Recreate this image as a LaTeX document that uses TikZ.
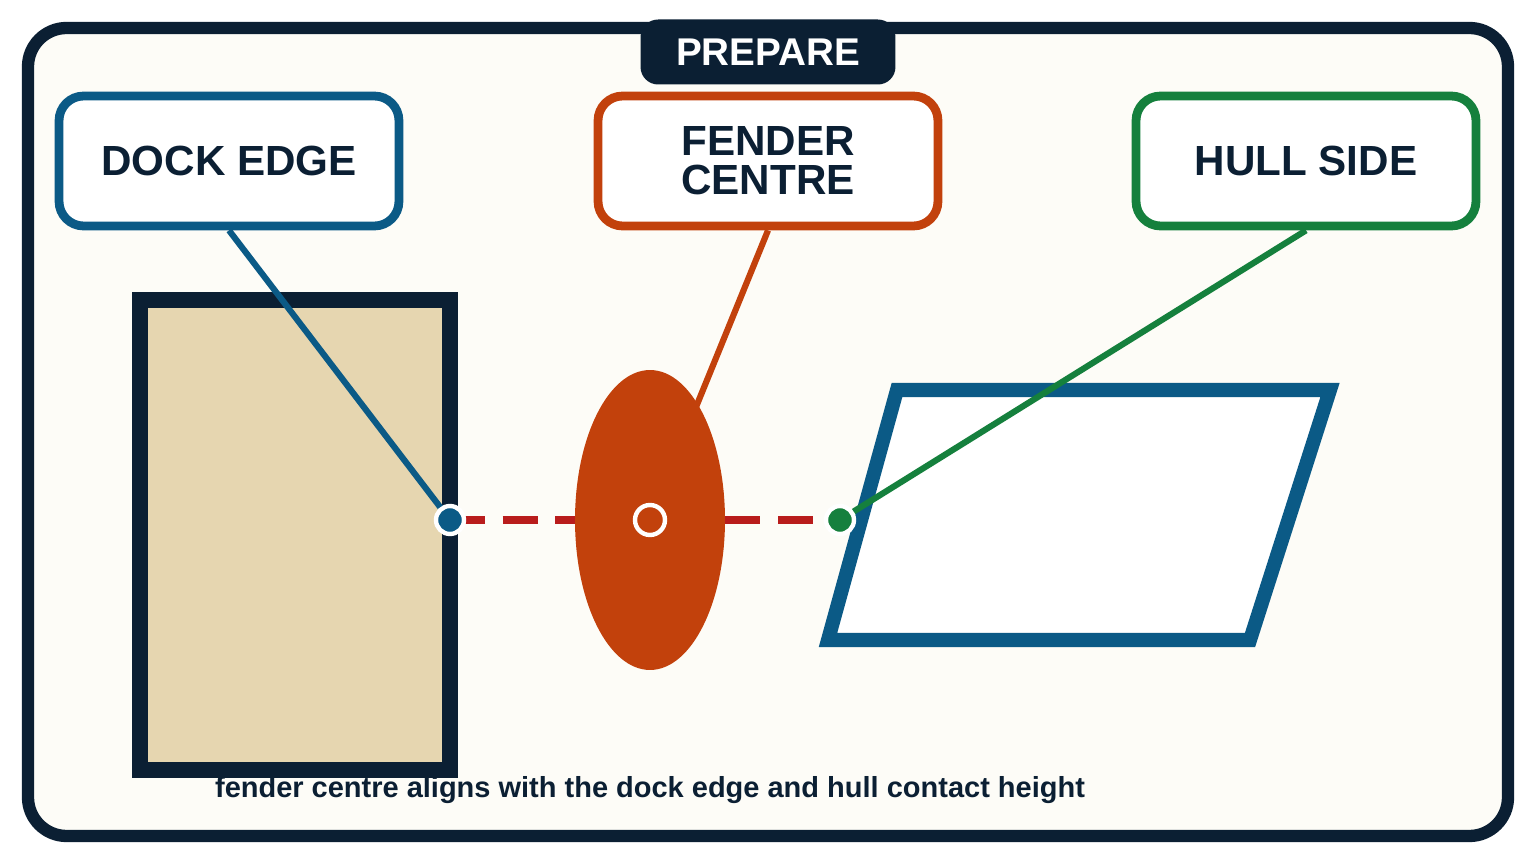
\documentclass[tikz,border=0pt]{standalone}
\usepackage{fontspec}
\setmainfont{Liberation Sans}
\usetikzlibrary{shapes.geometric}
\definecolor{navy}{HTML}{0B1F33}
\definecolor{cblue}{HTML}{0B5A86}
\definecolor{corange}{HTML}{C2410C}
\definecolor{cgreen}{HTML}{15803D}
\definecolor{cred}{HTML}{B91C1C}
\definecolor{cream}{HTML}{FDFCF7}
\definecolor{sand}{HTML}{E6D6B0}
\begin{document}
\begin{tikzpicture}[x=0.02cm,y=-0.02cm,
 lbl/.style={draw,line width=5pt,rounded corners=14pt,fill=white,minimum width=6.8cm,minimum height=2.6cm,font=\bfseries\fontsize{24}{26}\selectfont,text=navy,align=center},
 lead/.style={line width=3.5pt}]
\useasboundingbox (0,0) rectangle (1536,864);
\fill[white] (0,0) rectangle (1536,864);
\draw[navy,line width=7pt,fill=cream,rounded corners=22pt] (28,28) rectangle (1508,836);
\node[fill=navy,rounded corners=10pt,minimum width=5.1cm,minimum height=1.3cm,text=white,font=\bfseries\fontsize{22}{24}\selectfont] (tab) at (768,52) {PREPARE};
\node[lbl,draw=cblue] (dock) at (229,161) {DOCK EDGE};
\node[lbl,draw=corange] (fend) at (768,161) {FENDER\\[-4pt]CENTRE};
\node[lbl,draw=cgreen] (hull) at (1306,161) {HULL SIDE};
\draw[navy,line width=9pt,fill=sand] (140,300) rectangle (450,770);
\coordinate (pd) at (450,520);
\coordinate (pf) at (650,520);
\coordinate (ph) at (840,520);
\draw[corange,lead] (fend.south) -- (pf);
\node[ellipse,fill=corange,minimum width=3cm,minimum height=6cm,inner sep=0] (ell) at (650,520) {};
\draw[cblue,line width=8pt,fill=white,line join=miter] (897,390) -- (1330,390) -- (1250,640) -- (828,640) -- cycle;
\draw[cred,line width=4.5pt,dash pattern=on 20pt off 10pt] (pd) -- (ell.west);
\draw[cred,line width=4.5pt,dash pattern=on 20pt off 10pt] (ell.east) -- (ph);
\draw[cblue,lead] (dock.south) -- (pd);
\draw[cgreen,lead] (hull.south) -- (ph);
\node[circle,fill=cblue,draw=white,line width=2.5pt,minimum size=0.56cm,inner sep=0] at (pd) {};
\node[circle,draw=white,line width=2.5pt,minimum size=0.6cm,inner sep=0] at (pf) {};
\node[circle,fill=cgreen,draw=white,line width=2.5pt,minimum size=0.56cm,inner sep=0] at (ph) {};
\node[text=navy,font=\bfseries\fontsize{16.5}{18}\selectfont] (cap) at (650,790) {fender centre aligns with the dock edge and hull contact height};
\end{tikzpicture}
\end{document}
